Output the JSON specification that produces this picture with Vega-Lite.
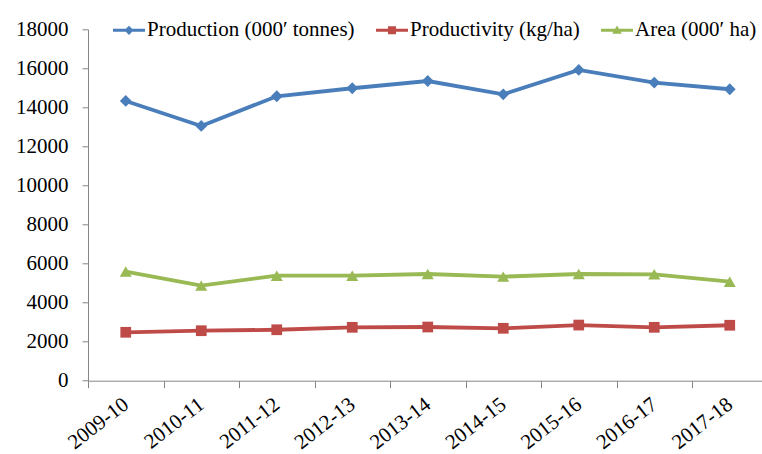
{
  "$schema": "https://vega.github.io/schema/vega-lite/v6.json",
  "width": 674,
  "height": 351.4,
  "autosize": {"type": "none"},
  "padding": {"left": 88, "top": 29.3, "right": 0, "bottom": 73.3},
  "background": "white",
  "config": {"view": {"stroke": null}, "font": "Liberation Serif, Times New Roman, serif"},
  "data": {"values": [
    {"year": "2009-10", "series": "Production (000′ tonnes)", "value": 14330},
    {"year": "2010-11", "series": "Production (000′ tonnes)", "value": 13050},
    {"year": "2011-12", "series": "Production (000′ tonnes)", "value": 14570},
    {"year": "2012-13", "series": "Production (000′ tonnes)", "value": 14980},
    {"year": "2013-14", "series": "Production (000′ tonnes)", "value": 15350},
    {"year": "2014-15", "series": "Production (000′ tonnes)", "value": 14670},
    {"year": "2015-16", "series": "Production (000′ tonnes)", "value": 15920},
    {"year": "2016-17", "series": "Production (000′ tonnes)", "value": 15270},
    {"year": "2017-18", "series": "Production (000′ tonnes)", "value": 14930},
    {"year": "2009-10", "series": "Productivity (kg/ha)", "value": 2480},
    {"year": "2010-11", "series": "Productivity (kg/ha)", "value": 2560},
    {"year": "2011-12", "series": "Productivity (kg/ha)", "value": 2610},
    {"year": "2012-13", "series": "Productivity (kg/ha)", "value": 2735},
    {"year": "2013-14", "series": "Productivity (kg/ha)", "value": 2750},
    {"year": "2014-15", "series": "Productivity (kg/ha)", "value": 2685},
    {"year": "2015-16", "series": "Productivity (kg/ha)", "value": 2850},
    {"year": "2016-17", "series": "Productivity (kg/ha)", "value": 2735},
    {"year": "2017-18", "series": "Productivity (kg/ha)", "value": 2840},
    {"year": "2009-10", "series": "Area (000′ ha)", "value": 5590},
    {"year": "2010-11", "series": "Area (000′ ha)", "value": 4870},
    {"year": "2011-12", "series": "Area (000′ ha)", "value": 5380},
    {"year": "2012-13", "series": "Area (000′ ha)", "value": 5380},
    {"year": "2013-14", "series": "Area (000′ ha)", "value": 5465},
    {"year": "2014-15", "series": "Area (000′ ha)", "value": 5330},
    {"year": "2015-16", "series": "Area (000′ ha)", "value": 5465},
    {"year": "2016-17", "series": "Area (000′ ha)", "value": 5450},
    {"year": "2017-18", "series": "Area (000′ ha)", "value": 5070}
  ]},
  "encoding": {
    "x": {
      "field": "year", "type": "ordinal", "sort": null,
      "scale": {"paddingInner": 0, "paddingOuter": 0, "range": [0, 679.5]},
      "axis": {
        "title": null, "labelAngle": -38, "labelAlign": "right", "labelBaseline": "middle",
        "labelFontSize": 21, "labelFont": "Liberation Serif, Times New Roman, serif", "labelColor": "black",
        "labelPadding": 14, "tickSize": 7, "tickBand": "extent",
        "domainColor": "#868686", "tickColor": "#868686", "domainWidth": 1, "tickWidth": 1, "grid": false
      }
    },
    "y": {
      "field": "value", "type": "quantitative",
      "scale": {"domain": [0, 18000], "nice": false},
      "axis": {
        "title": null, "values": [0, 2000, 4000, 6000, 8000, 10000, 12000, 14000, 16000, 18000],
        "format": "d", "labelFontSize": 21, "labelFont": "Liberation Serif, Times New Roman, serif", "labelColor": "black",
        "labelPadding": 14, "tickSize": 6, "grid": false,
        "domainColor": "#868686", "tickColor": "#868686"
      }
    }
  },
  "layer": [
    {
      "transform": [{"filter": "datum.series === 'Production (000′ tonnes)'"}],
      "mark": {"type": "line", "strokeWidth": 3.8, "color": "#4A7EBB"},
      "encoding": {}
    },
    {
      "transform": [{"filter": "datum.series === 'Productivity (kg/ha)'"}],
      "mark": {"type": "line", "strokeWidth": 3.8, "color": "#BE4B48"},
      "encoding": {}
    },
    {
      "transform": [{"filter": "datum.series === 'Area (000′ ha)'"}],
      "mark": {"type": "line", "strokeWidth": 3.8, "color": "#98B954"},
      "encoding": {}
    },
    {
      "transform": [{"filter": "datum.series === 'Production (000′ tonnes)'"}],
      "mark": {"type": "point", "shape": "diamond", "filled": true, "opacity": 1, "size": 140, "color": "#4A7EBB"},
      "encoding": {}
    },
    {
      "transform": [{"filter": "datum.series === 'Productivity (kg/ha)'"}],
      "mark": {"type": "point", "shape": "square", "filled": true, "opacity": 1, "size": 115, "color": "#BE4B48"},
      "encoding": {}
    },
    {
      "transform": [{"filter": "datum.series === 'Area (000′ ha)'"}],
      "mark": {"type": "point", "shape": "triangle-up", "filled": true, "opacity": 1, "size": 145, "color": "#98B954"},
      "encoding": {}
    },
    {
      "mark": {"type": "point", "filled": true, "opacity": 0},
      "encoding": {
        "color": {"field": "series", "type": "nominal",
          "scale": {"domain": ["Production (000′ tonnes)", "Productivity (kg/ha)", "Area (000′ ha)"], "range": ["#4A7EBB", "#BE4B48", "#98B954"]},
          "legend": {"orient": "none", "legendX": 25, "legendY": -15, "direction": "horizontal", "title": null,
            "symbolSize": 1024, "symbolOpacity": 1, "symbolStrokeWidth": 0, "labelLimit": 400,
            "labelFontSize": 21, "labelFont": "Liberation Serif, Times New Roman, serif", "labelColor": "black", "labelOffset": 2, "columnPadding": 21}},
        "shape": {"field": "series", "type": "nominal",
          "scale": {"domain": ["Production (000′ tonnes)", "Productivity (kg/ha)", "Area (000′ ha)"],
            "range": [
              "M-1,-0.094H1V0.094H-1Z M0,-0.29L0.29,0L0,0.29L-0.29,0Z",
              "M-1,-0.094H1V0.094H-1Z M-0.25,-0.25H0.25V0.25H-0.25Z",
              "M-1,-0.094H1V0.094H-1Z M0,-0.3L0.3,0.22L-0.3,0.22Z"
            ]},
          "legend": {"orient": "none", "legendX": 25, "legendY": -15, "direction": "horizontal", "title": null,
            "symbolSize": 1024, "symbolOpacity": 1, "symbolStrokeWidth": 0, "labelLimit": 400,
            "labelFontSize": 21, "labelFont": "Liberation Serif, Times New Roman, serif", "labelColor": "black", "labelOffset": 2, "columnPadding": 21}}
      }
    }
  ]
}
